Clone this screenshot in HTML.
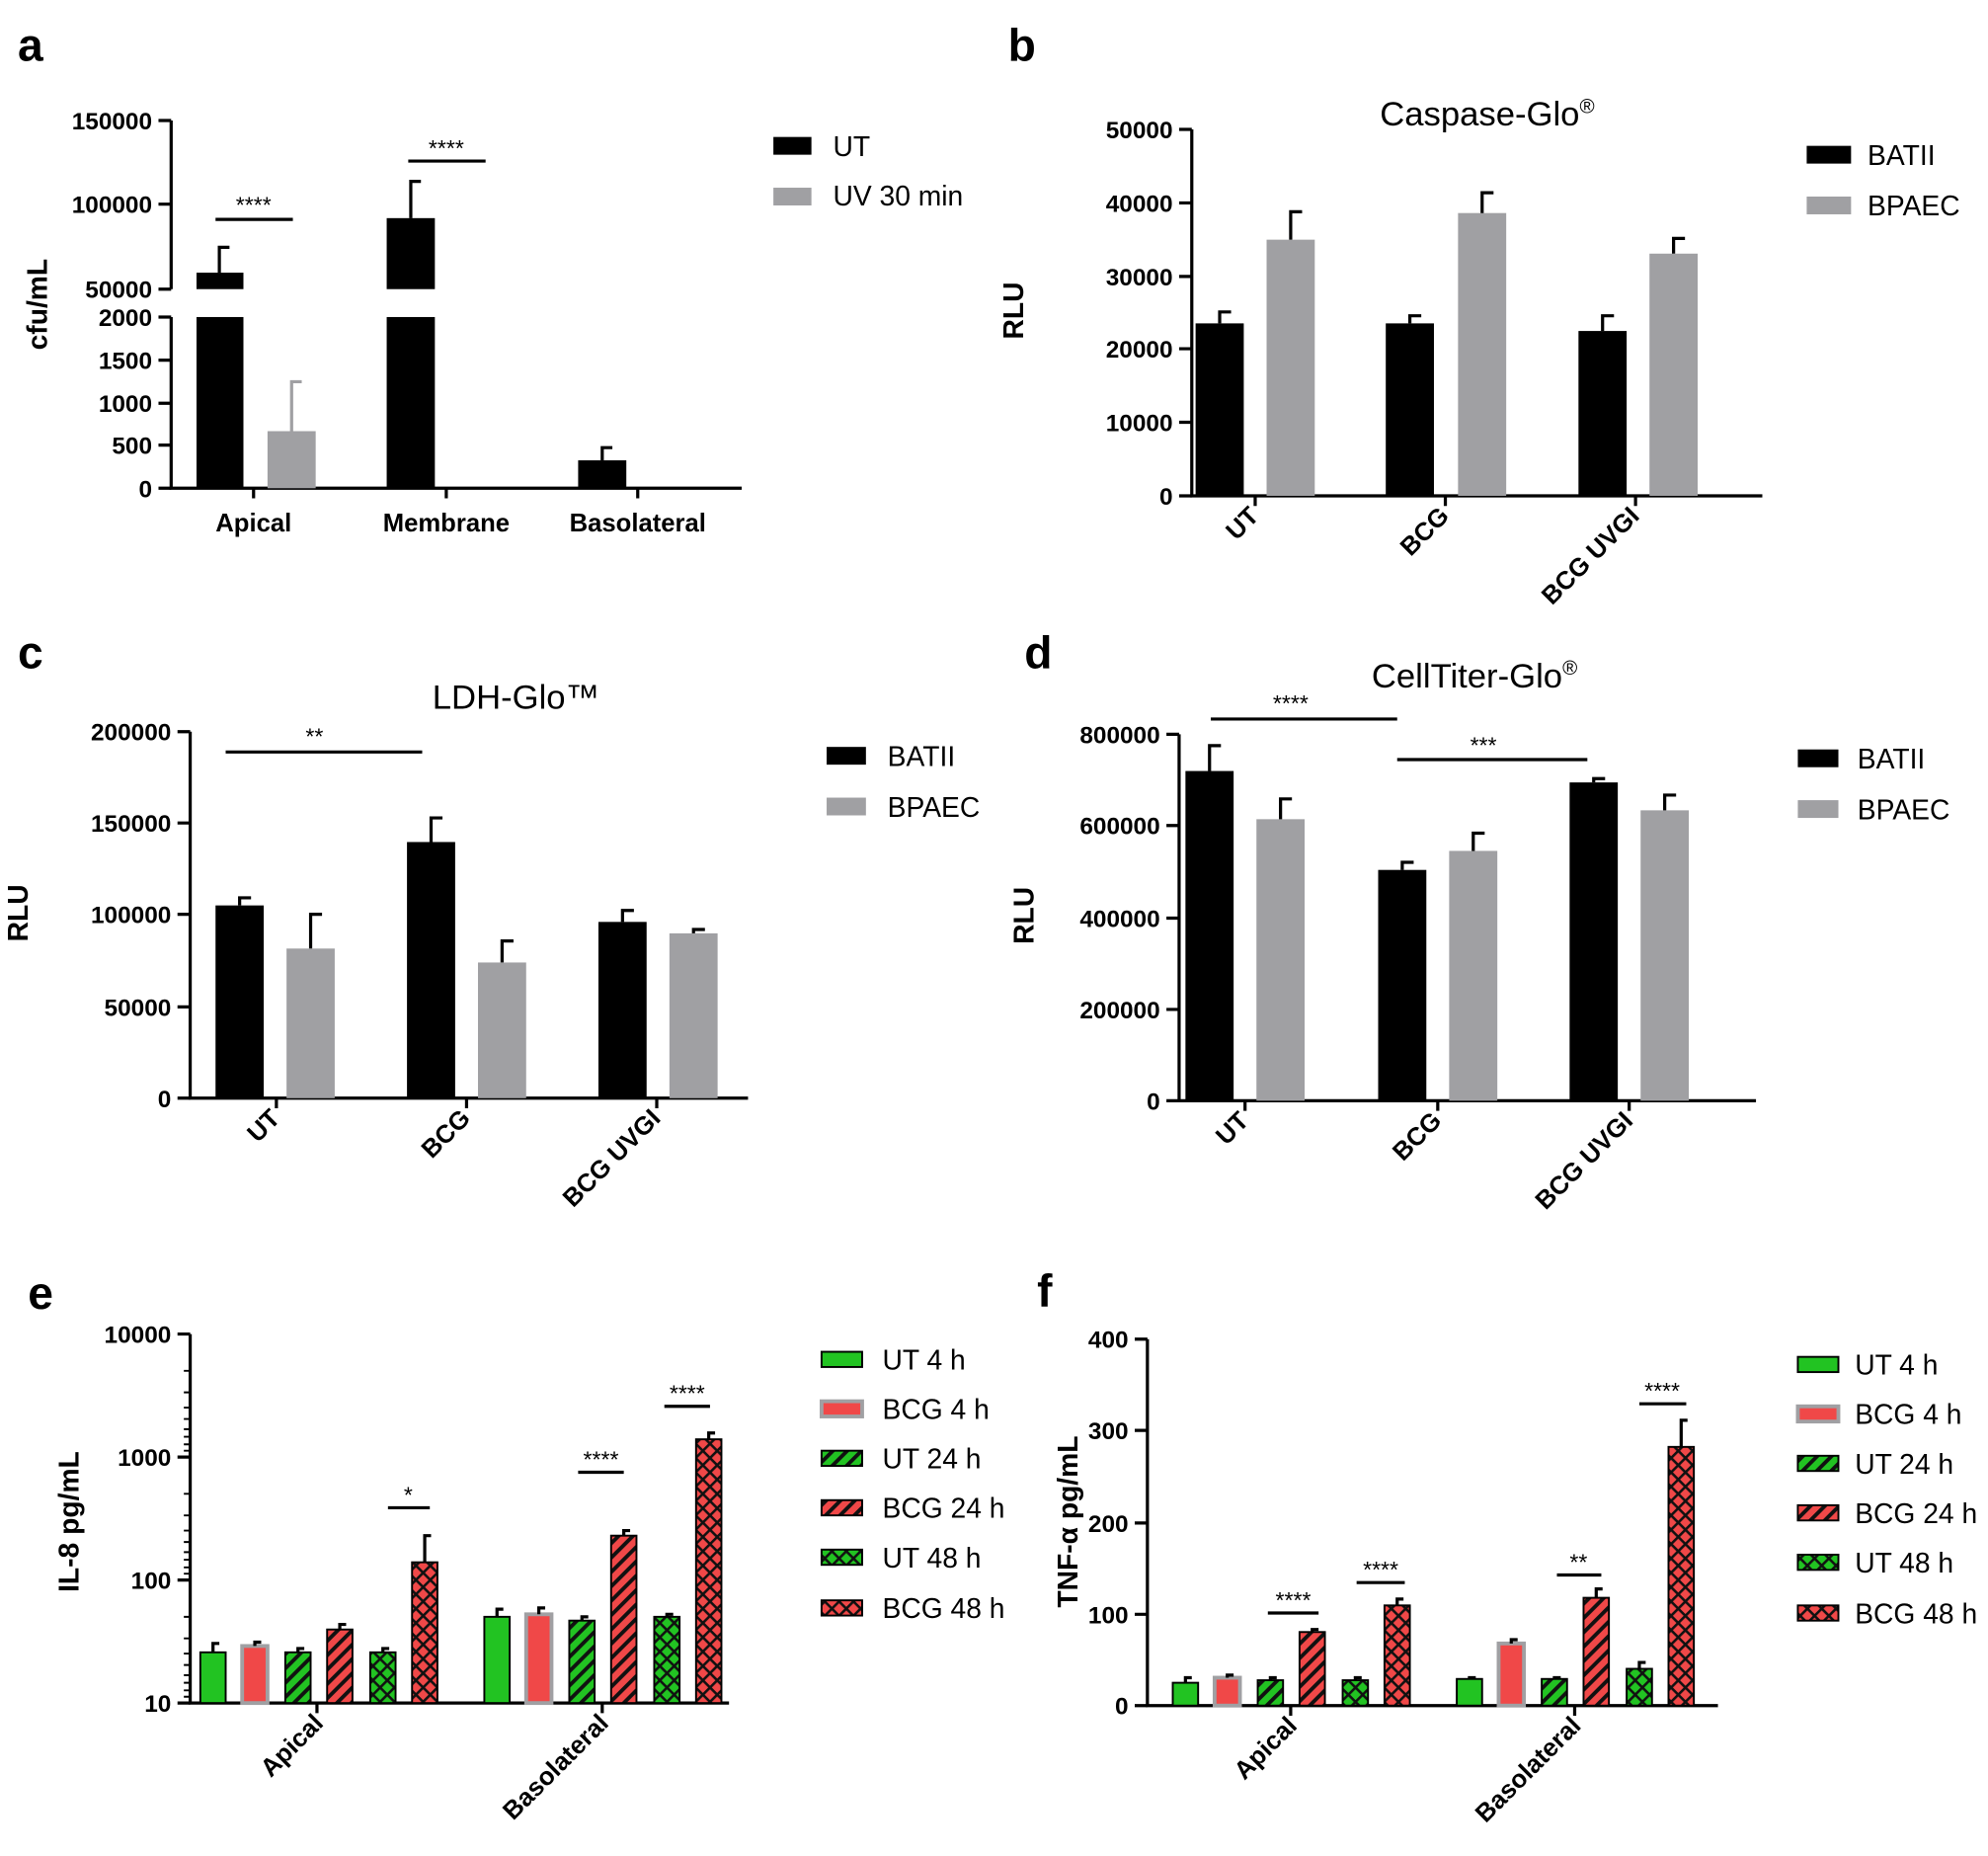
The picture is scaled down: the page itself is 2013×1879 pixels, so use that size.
<!DOCTYPE html>
<html><head><meta charset="utf-8"><style>html,body{margin:0;padding:0;background:#fff}svg{display:block}</style></head>
<body>
<svg width="2013" height="1879" viewBox="0 0 1568 1463.6" xmlns="http://www.w3.org/2000/svg" font-family="Liberation Sans, Arial, sans-serif">
<defs>
<pattern id="hg" width="8" height="8" patternUnits="userSpaceOnUse" patternTransform="rotate(45)"><rect width="8" height="8" fill="#22c322"/><rect width="3" height="8" fill="#111"/></pattern>
<pattern id="hr" width="8" height="8" patternUnits="userSpaceOnUse" patternTransform="rotate(45)"><rect width="8" height="8" fill="#f04848"/><rect width="3" height="8" fill="#111"/></pattern>
<pattern id="xg" width="8" height="8" patternUnits="userSpaceOnUse" patternTransform="rotate(45)"><rect width="8" height="8" fill="#22c322"/><rect width="2" height="8" fill="#111"/><rect width="8" height="2" fill="#111"/></pattern>
<pattern id="xr" width="8" height="8" patternUnits="userSpaceOnUse" patternTransform="rotate(45)"><rect width="8" height="8" fill="#f04848"/><rect width="2" height="8" fill="#111"/><rect width="8" height="2" fill="#111"/></pattern>
</defs>
<g font-weight="bold" font-size="36">
<text x="14" y="48">a</text><text x="795" y="48">b</text><text x="14" y="527">c</text><text x="808" y="527">d</text><text x="22" y="1032">e</text><text x="818" y="1030">f</text>
</g>
<g stroke="#000" stroke-width="2.5" fill="none">
<!-- a axes -->
<path d="M135 95V228M135 250V385H585"/>
<path d="M125 95H135M125 161H135M125 228H135M125 250H135M125 284H135M125 318H135M125 351H135M125 385H135M200 385v8M352 385v8M503 385v8"/>
<!-- b -->
<path d="M940 102V391H1390"/>
<path d="M930 102h10M930 160h10M930 218h10M930 275h10M930 333h10M930 391h10M990 391v8M1140 391v8M1290 391v8"/>
<!-- c -->
<path d="M150 577V866H590"/>
<path d="M140 577h10M140 649h10M140 721h10M140 794h10M140 866h10M218 866v8M368 866v8M518 866v8"/>
<!-- d -->
<path d="M930 579V868H1385"/>
<path d="M920 579h10M920 651h10M920 724h10M920 796h10M920 868h10M982 868v8M1134 868v8M1285 868v8"/>
<!-- e -->
<path d="M150 1052V1343H575"/>
<path d="M140 1052h10M140 1149h10M140 1246h10M140 1343h10M250 1343v8M475 1343v8"/>
<path stroke-width="1.5" d="M145 1081h5M145 1098h5M145 1110h5M145 1119h5M145 1127h5M145 1133h5M145 1139h5M145 1144h5M145 1178h5M145 1195h5M145 1207h5M145 1216h5M145 1224h5M145 1230h5M145 1236h5M145 1241h5M145 1275h5M145 1292h5M145 1304h5M145 1313h5M145 1321h5M145 1327h5M145 1333h5M145 1338h5"/>
<!-- f -->
<path d="M905 1056V1345H1355"/>
<path d="M895 1056h10M895 1128h10M895 1201h10M895 1273h10M895 1345h10M1018 1345v8M1242 1345v8"/>
</g>
<g font-weight="bold" font-size="19" text-anchor="end">
<text x="120" y="102">150000</text><text x="120" y="168">100000</text><text x="120" y="235">50000</text><text x="120" y="257">2000</text><text x="120" y="291">1500</text><text x="120" y="325">1000</text><text x="120" y="358">500</text><text x="120" y="392">0</text>
<text x="925" y="109">50000</text><text x="925" y="167">40000</text><text x="925" y="225">30000</text><text x="925" y="282">20000</text><text x="925" y="340">10000</text><text x="925" y="398">0</text>
<text x="135" y="584">200000</text><text x="135" y="656">150000</text><text x="135" y="728">100000</text><text x="135" y="801">50000</text><text x="135" y="873">0</text>
<text x="915" y="586">800000</text><text x="915" y="658">600000</text><text x="915" y="731">400000</text><text x="915" y="803">200000</text><text x="915" y="875">0</text>
<text x="135" y="1059">10000</text><text x="135" y="1156">1000</text><text x="135" y="1253">100</text><text x="135" y="1350">10</text>
<text x="890" y="1063">400</text><text x="890" y="1135">300</text><text x="890" y="1208">200</text><text x="890" y="1280">100</text><text x="890" y="1352">0</text>
</g>
<g font-weight="bold" font-size="20">
<text x="200" y="419" text-anchor="middle">Apical</text><text x="352" y="419" text-anchor="middle">Membrane</text><text x="503" y="419" text-anchor="middle">Basolateral</text>
<g text-anchor="end">
<text transform="translate(994,408) rotate(-45)">UT</text><text transform="translate(1144,408) rotate(-45)">BCG</text><text transform="translate(1294,408) rotate(-45)">BCG UVGI</text>
<text transform="translate(222,883) rotate(-45)">UT</text><text transform="translate(372,883) rotate(-45)">BCG</text><text transform="translate(522,883) rotate(-45)">BCG UVGI</text>
<text transform="translate(986,885) rotate(-45)">UT</text><text transform="translate(1138,885) rotate(-45)">BCG</text><text transform="translate(1289,885) rotate(-45)">BCG UVGI</text>
<text transform="translate(256,1360) rotate(-45)">Apical</text><text transform="translate(481,1360) rotate(-45)">Basolateral</text>
<text transform="translate(1024,1362) rotate(-45)">Apical</text><text transform="translate(1248,1362) rotate(-45)">Basolateral</text>
</g>
<g text-anchor="middle" font-size="22">
<text transform="translate(37,240) rotate(-90)">cfu/mL</text>
<text transform="translate(807,245) rotate(-90)">RLU</text>
<text transform="translate(22,720) rotate(-90)">RLU</text>
<text transform="translate(815,722) rotate(-90)">RLU</text>
<text transform="translate(62,1200) rotate(-90)">IL-8 pg/mL</text>
<text transform="translate(850,1200) rotate(-90)">TNF-α pg/mL</text>
</g>
</g>
<g font-size="27" text-anchor="middle">
<text x="1173" y="99">Caspase-Glo<tspan font-size="16" dy="-10">®</tspan></text>
<text x="407" y="559">LDH-Glo™</text>
<text x="1163" y="542">CellTiter-Glo<tspan font-size="16" dy="-10">®</tspan></text>
</g>
<!-- a bars -->
<rect x="155" y="215" width="37" height="13" fill="#000"/><rect x="155" y="250" width="37" height="135" fill="#000"/>
<rect x="211" y="340" width="38" height="45" fill="#a0a0a3"/>
<rect x="305" y="172" width="38" height="56" fill="#000"/><rect x="305" y="250" width="38" height="135" fill="#000"/>
<rect x="456" y="363" width="38" height="22" fill="#000"/>
<g stroke-width="2.5" fill="none">
<path stroke="#000" d="M173 215V195h8M324 172V143h8M475 363V353h8"/>
<path stroke="#a0a0a3" d="M230 340V301h8"/>
<path stroke="#000" d="M170 173h61M322 127h61"/>
</g>
<g font-size="18" text-anchor="middle"><text x="200" y="168">****</text><text x="352" y="123">****</text></g>
<g font-size="22"><rect x="610" y="108" width="30" height="14" fill="#000"/><text x="657" y="123">UT</text>
<rect x="610" y="148" width="30" height="14" fill="#a0a0a3"/><text x="657" y="162">UV 30 min</text></g>
<!-- b bars -->
<g fill="#000"><rect x="943" y="255" width="38" height="136"/><rect x="1093" y="255" width="38" height="136"/><rect x="1245" y="261" width="38" height="130"/></g>
<g fill="#a0a0a3"><rect x="999" y="189" width="38" height="202"/><rect x="1150" y="168" width="38" height="223"/><rect x="1301" y="200" width="38" height="191"/></g>
<path stroke="#000" stroke-width="2.5" fill="none" d="M962 255V246h9M1112 255V249h9M1264 261V249h9M1018 189V167h9M1169 168V152h9M1320 200V188h9"/>
<g font-size="22"><rect x="1425" y="115" width="35" height="14" fill="#000"/><text x="1473" y="130">BATII</text>
<rect x="1425" y="155" width="35" height="14" fill="#a0a0a3"/><text x="1473" y="170">BPAEC</text></g>
<!-- c bars -->
<g fill="#000"><rect x="170" y="714" width="38" height="152"/><rect x="321" y="664" width="38" height="202"/><rect x="472" y="727" width="38" height="139"/></g>
<g fill="#a0a0a3"><rect x="226" y="748" width="38" height="118"/><rect x="377" y="759" width="38" height="107"/><rect x="528" y="736" width="38" height="130"/></g>
<path stroke="#000" stroke-width="2.5" fill="none" d="M189 714V708h9M340 664V645h9M491 727V718h9M245 748V721h9M396 759V742h9M547 736V733h9M178 593H333"/>
<text x="248" y="587" font-size="18" text-anchor="middle">**</text>
<g font-size="22"><rect x="652" y="589" width="31" height="14" fill="#000"/><text x="700" y="604">BATII</text>
<rect x="652" y="629" width="31" height="14" fill="#a0a0a3"/><text x="700" y="644">BPAEC</text></g>
<!-- d bars -->
<g fill="#000"><rect x="935" y="608" width="38" height="260"/><rect x="1087" y="686" width="38" height="182"/><rect x="1238" y="617" width="38" height="251"/></g>
<g fill="#a0a0a3"><rect x="991" y="646" width="38" height="222"/><rect x="1143" y="671" width="38" height="197"/><rect x="1294" y="639" width="38" height="229"/></g>
<path stroke="#000" stroke-width="2.5" fill="none" d="M954 608V588h9M1106 686V680h9M1257 617V614h9M1010 646V630h9M1162 671V657h9M1313 639V627h9M955 567H1102M1102 599H1252"/>
<g font-size="18" text-anchor="middle"><text x="1018" y="561">****</text><text x="1170" y="594">***</text></g>
<g font-size="22"><rect x="1418" y="591" width="32" height="14" fill="#000"/><text x="1465" y="606">BATII</text>
<rect x="1418" y="631" width="32" height="14" fill="#a0a0a3"/><text x="1465" y="646">BPAEC</text></g>
<!-- e bars -->
<g stroke="#000" stroke-width="1.5">
<rect x="158" y="1303" width="20" height="40" fill="#22c322"/><rect x="191" y="1298" width="20" height="45" fill="#f04848" stroke="#a0a0a3" stroke-width="3"/><rect x="225" y="1303" width="20" height="40" fill="url(#hg)"/><rect x="258" y="1285" width="20" height="58" fill="url(#hr)"/><rect x="292" y="1303" width="20" height="40" fill="url(#xg)"/><rect x="325" y="1232" width="20" height="111" fill="url(#xr)"/>
<rect x="382" y="1275" width="20" height="68" fill="#22c322"/><rect x="415" y="1273" width="20" height="70" fill="#f04848" stroke="#a0a0a3" stroke-width="3"/><rect x="449" y="1278" width="20" height="65" fill="url(#hg)"/><rect x="482" y="1211" width="20" height="132" fill="url(#hr)"/><rect x="516" y="1275" width="20" height="68" fill="url(#xg)"/><rect x="549" y="1135" width="20" height="208" fill="url(#xr)"/>
</g>
<path stroke="#000" stroke-width="2.5" fill="none" d="M168 1303v-7h5M201 1298v-3h5M235 1303v-3h5M268 1285v-4h5M302 1303v-3h5M335 1232v-21h5M392 1275v-6h5M425 1273v-5h5M459 1278v-3h5M492 1211v-4h5M526 1275v-2h5M559 1135v-5h5M306 1189h33M456 1161h36M524 1109h36"/>
<g font-size="18" text-anchor="middle"><text x="322" y="1185">*</text><text x="474" y="1157">****</text><text x="542" y="1105">****</text></g>
<g font-size="22" stroke="#000" stroke-width="1.5">
<rect x="648" y="1066" width="32" height="12" fill="#22c322"/><rect x="648" y="1105" width="32" height="12" fill="#f04848" stroke="#a0a0a3" stroke-width="3"/><rect x="648" y="1144" width="32" height="12" fill="url(#hg)"/><rect x="648" y="1183" width="32" height="12" fill="url(#hr)"/><rect x="648" y="1222" width="32" height="12" fill="url(#xg)"/><rect x="648" y="1262" width="32" height="12" fill="url(#xr)"/>
</g>
<g font-size="22"><text x="696" y="1080">UT 4 h</text><text x="696" y="1119">BCG 4 h</text><text x="696" y="1158">UT 24 h</text><text x="696" y="1197">BCG 24 h</text><text x="696" y="1236">UT 48 h</text><text x="696" y="1276">BCG 48 h</text></g>
<!-- f bars -->
<g stroke="#000" stroke-width="1.5">
<rect x="925" y="1327" width="20" height="18" fill="#22c322"/><rect x="958" y="1323" width="20" height="22" fill="#f04848" stroke="#a0a0a3" stroke-width="3"/><rect x="992" y="1325" width="20" height="20" fill="url(#hg)"/><rect x="1025" y="1287" width="20" height="58" fill="url(#hr)"/><rect x="1059" y="1325" width="20" height="20" fill="url(#xg)"/><rect x="1092" y="1266" width="20" height="79" fill="url(#xr)"/>
<rect x="1149" y="1324" width="20" height="21" fill="#22c322"/><rect x="1182" y="1296" width="20" height="49" fill="#f04848" stroke="#a0a0a3" stroke-width="3"/><rect x="1216" y="1324" width="20" height="21" fill="url(#hg)"/><rect x="1249" y="1260" width="20" height="85" fill="url(#hr)"/><rect x="1283" y="1316" width="20" height="29" fill="url(#xg)"/><rect x="1316" y="1141" width="20" height="204" fill="url(#xr)"/>
</g>
<path stroke="#000" stroke-width="2.5" fill="none" d="M935 1327v-4h5M968 1323v-2h5M1002 1325v-2h5M1035 1287v-2h5M1069 1325v-2h5M1102 1266v-5h5M1159 1324v-1h5M1192 1296v-3h5M1226 1324v-1h5M1259 1260v-7h5M1293 1316v-5h5M1326 1141v-21h5M1000 1272h40M1070 1248h38M1228 1242h35M1293 1107h37"/>
<g font-size="18" text-anchor="middle"><text x="1020" y="1268">****</text><text x="1089" y="1244">****</text><text x="1245" y="1238">**</text><text x="1311" y="1103">****</text></g>
<g stroke="#000" stroke-width="1.5">
<rect x="1418" y="1070" width="32" height="12" fill="#22c322"/><rect x="1418" y="1109" width="32" height="12" fill="#f04848" stroke="#a0a0a3" stroke-width="3"/><rect x="1418" y="1148" width="32" height="12" fill="url(#hg)"/><rect x="1418" y="1187" width="32" height="12" fill="url(#hr)"/><rect x="1418" y="1226" width="32" height="12" fill="url(#xg)"/><rect x="1418" y="1266" width="32" height="12" fill="url(#xr)"/>
</g>
<g font-size="22"><text x="1463" y="1084">UT 4 h</text><text x="1463" y="1123">BCG 4 h</text><text x="1463" y="1162">UT 24 h</text><text x="1463" y="1201">BCG 24 h</text><text x="1463" y="1240">UT 48 h</text><text x="1463" y="1280">BCG 48 h</text></g>
</svg>
</body></html>
